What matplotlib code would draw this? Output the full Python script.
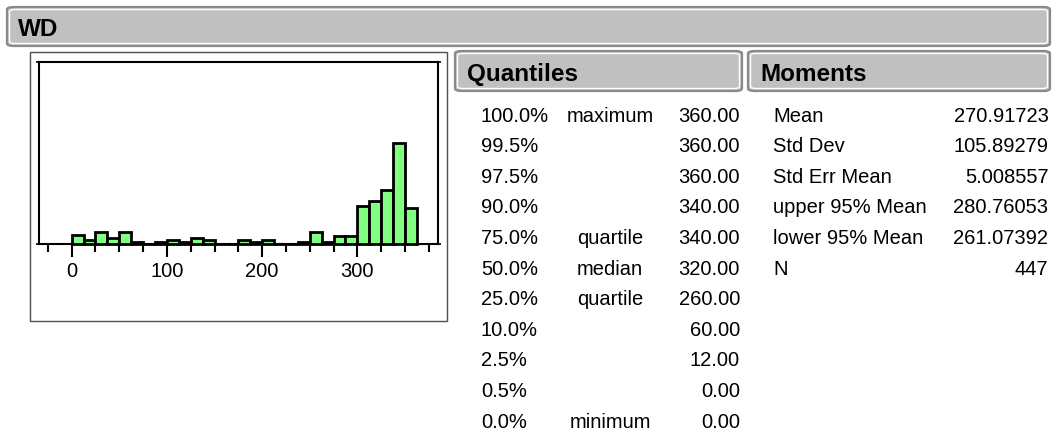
import numpy as np
import matplotlib.pyplot as plt
from matplotlib.patches import FancyBboxPatch, Rectangle

plt.rcParams['font.family'] = ['Liberation Sans', 'DejaVu Sans']

# histogram of WD, bins of 12.5 starting at 0
bin_start = 0
bin_width = 12.5
counts = [11, 5, 14, 7, 14, 2, 0, 2, 5, 2, 7, 5, 0, 0, 5,
          2, 5, 0, 0, 2, 14, 2, 9, 9, 46, 51, 64, 121, 43]

q_pct = ['100.0%', '99.5%', '97.5%', '90.0%', '75.0%', '50.0%',
         '25.0%', '10.0%', '2.5%', '0.5%', '0.0%']
q_name = ['maximum', '', '', '', 'quartile', 'median', 'quartile', '', '', '', 'minimum']
q_val = ['360.00', '360.00', '360.00', '340.00', '340.00', '320.00',
         '260.00', '60.00', '12.00', '0.00', '0.00']

m_name = ['Mean', 'Std Dev', 'Std Err Mean', 'upper 95% Mean', 'lower 95% Mean', 'N']
m_val = ['270.91723', '105.89279', '5.008557', '280.76053', '261.07392', '447']

W, H = 1053, 431
fig = plt.figure(figsize=(W / 100, H / 100), dpi=100)


def fx(x):
    return x / W


def fy(y):
    return 1 - y / H


def header(x0, x1, y0, y1, title, tx):
    outer = FancyBboxPatch((fx(x0), fy(y1)), fx(x1) - fx(x0), fy(y0) - fy(y1),
                           boxstyle='round,pad=0,rounding_size=0.006',
                           transform=fig.transFigure, facecolor='#c0c0c0',
                           edgecolor='#8a8a8a', linewidth=1.6)
    inner = FancyBboxPatch((fx(x0 + 2.5), fy(y1 - 2.5)), fx(x1 - x0 - 5), fy(y0) - fy(y0 + (y1 - y0) - 5),
                           boxstyle='round,pad=0,rounding_size=0.005',
                           transform=fig.transFigure, facecolor='none',
                           edgecolor='white', linewidth=1.0)
    fig.patches.extend([outer, inner])
    fig.text(fx(tx), fy(y1 - 11), title, fontsize=17.5, fontweight='bold',
             va='baseline', ha='left')


header(7, 1050, 8, 47, 'WD', 18)
header(455, 742, 52, 92, 'Quantiles', 467)
header(748, 1050, 52, 92, 'Moments', 760)

# outer frame of histogram panel
fig.patches.append(Rectangle((fx(30), fy(322)), fx(447) - fx(30), fy(53) - fy(322),
                             transform=fig.transFigure, facecolor='none',
                             edgecolor='#505050', linewidth=1.0))

# histogram
ax = fig.add_axes([fx(39.3), fy(245), fx(438.3) - fx(39.3), fy(62.7) - fy(245)])
lefts = bin_start + bin_width * np.arange(len(counts))
ax.bar(lefts, counts, width=bin_width, align='edge', color='#80ff80',
       edgecolor='black', linewidth=2.0, clip_on=False, zorder=3)
ax.set_xlim(-34, 385)
ax.set_ylim(0, 218)
for s in ax.spines.values():
    s.set_linewidth(1.5)
ax.set_xticks([0, 100, 200, 300])
ax.set_xticks(np.arange(-25, 385, 25), minor=True)
ax.tick_params(axis='x', which='major', direction='out', length=9.5, width=1.5,
               labelsize=14.5, pad=3)
ax.tick_params(axis='x', which='minor', direction='out', length=5.5, width=1.5)
ax.set_yticks([0, 218])
ax.tick_params(axis='y', which='major', direction='out', length=2.5, width=1.2,
               left=True, right=True, labelleft=False)

# quantiles table
row0 = 121.7
dy = 30.6
for i in range(len(q_pct)):
    yb = fy(row0 + dy * i)
    fig.text(fx(481), yb, q_pct[i], fontsize=14.5, va='baseline', ha='left')
    fig.text(fx(610), yb, q_name[i], fontsize=14.5, va='baseline', ha='center')
    fig.text(fx(740), yb, q_val[i], fontsize=14.5, va='baseline', ha='right')

# moments table
for i in range(len(m_name)):
    yb = fy(row0 + dy * i)
    fig.text(fx(773), yb, m_name[i], fontsize=14.5, va='baseline', ha='left')
    fig.text(fx(1048.5), yb, m_val[i], fontsize=14.5, va='baseline', ha='right')

fig.savefig('out.png', dpi=100)
